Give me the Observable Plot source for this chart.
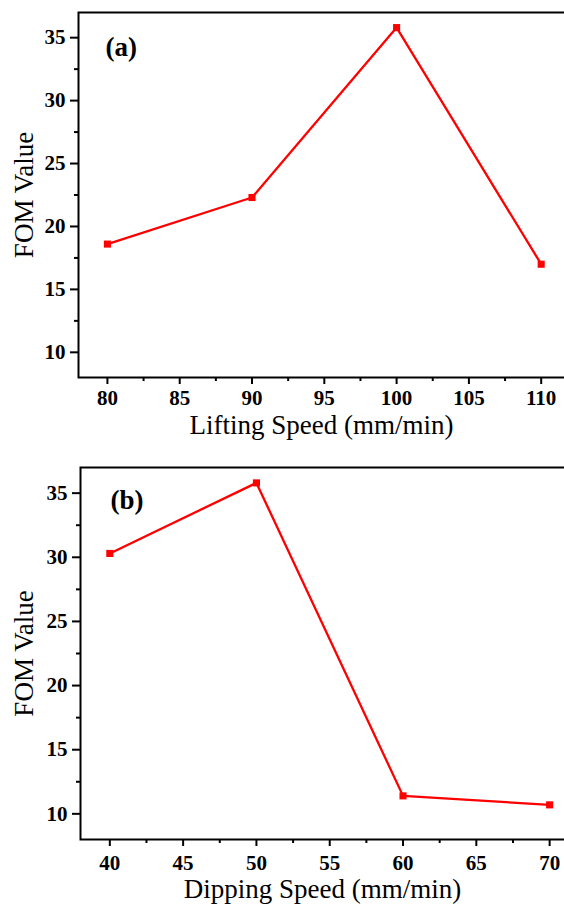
<!DOCTYPE html>
<html>
<head>
<meta charset="utf-8">
<script src="https://cdn.jsdelivr.net/npm/d3@7"></script>
<script src="https://cdn.jsdelivr.net/npm/@observablehq/plot@0.6"></script>
<style>
  html, body { margin: 0; padding: 0; background: white; overflow: hidden; }
  #chart { width: 564px; height: 908px; overflow: hidden; }
  #chart svg { display: block; max-width: none !important; }
</style>
</head>
<body>
<div id="chart"></div>
<script>
// Panel (a): Lifting speed
const liftingSpeed = [80, 90, 100, 110];
const fomLifting = [18.6, 22.3, 35.8, 17.0];
// Panel (b): Dipping speed
const dippingSpeed = [40, 50, 60, 70];
const fomDipping = [30.3, 35.8, 11.4, 10.7];

const xTicksA = [80, 85, 90, 95, 100, 105, 110];
const xMinorA = [82.5, 87.5, 92.5, 97.5, 102.5, 107.5];
const xTicksB = [40, 45, 50, 55, 60, 65, 70];
const xMinorB = [42.5, 47.5, 52.5, 57.5, 62.5, 67.5];
const yTicks = [10, 15, 20, 25, 30, 35];
const yMinor = [12.5, 17.5, 22.5, 27.5, 32.5];

const yLabel = "FOM Value";
const xLabelA = "Lifting Speed (mm/min)";
const xLabelB = "Dipping Speed (mm/min)";
const tagA = "(a)";
const tagB = "(b)";

const FONT = "'Liberation Serif', 'Times New Roman', serif";

function panel({xs, ys, xDomain, xTicks, xMinor, xLabel, tag, height, marginTop, marginBottom, marginLeft, tagDx, tagDy, xLabelDy, yLabelDx, xTickDy}) {
  const data = xs.map((x, i) => ({x, y: ys[i]}));
  const svg = Plot.plot({
    width: 566,
    height,
    marginTop,
    marginBottom,
    marginLeft,
    marginRight: 0,
    style: {fontFamily: FONT, background: "white", color: "black", overflow: "visible"},
    x: {domain: xDomain},
    y: {domain: [8, 37]},
    marks: [
      Plot.axisX({ticks: xTicks, tickSize: 7, tickFormat: () => "", strokeWidth: 2, label: null}),
      Plot.axisX({ticks: xMinor, tickSize: 4, tickFormat: () => "", strokeWidth: 2, label: null}),
      Plot.axisY({ticks: yTicks, tickSize: 8, tickFormat: () => "", strokeWidth: 2, label: null}),
      Plot.axisY({ticks: yMinor, tickSize: 4, tickFormat: () => "", strokeWidth: 2, label: null}),
      Plot.text(xTicks, {x: d => d, text: d => String(d), frameAnchor: "bottom", dy: xTickDy, lineAnchor: "middle", textAnchor: "middle", fontSize: 21, fontWeight: "bold", fontFamily: FONT}),
      Plot.text(yTicks, {y: d => d, text: d => String(d), frameAnchor: "left", dx: -13, textAnchor: "end", lineAnchor: "middle", fontSize: 21, fontWeight: "bold", fontFamily: FONT}),
      Plot.frame({stroke: "black", strokeWidth: 2}),
      Plot.line(data, {x: "x", y: "y", stroke: "#ff0000", strokeWidth: 2.3}),
      Plot.dot(data, {x: "x", y: "y", symbol: "square", r: 4, fill: "#ff0000", stroke: "none"}),
      Plot.text([tag], {text: d => d, frameAnchor: "top-left", dx: tagDx, dy: tagDy, textAnchor: "start", lineAnchor: "middle", fontSize: 27, fontWeight: "bold"}),
      Plot.text([xLabel], {text: d => d, frameAnchor: "bottom", dx: -1, dy: xLabelDy, lineAnchor: "top", fontSize: 27}),
      Plot.text([yLabel], {text: d => d, frameAnchor: "left", dx: yLabelDx, rotate: -90, textAnchor: "middle", lineAnchor: "middle", fontSize: 27})
    ]
  });
  return svg;
}

const chart = document.getElementById("chart");
chart.appendChild(panel({
  xs: liftingSpeed, ys: fomLifting, xDomain: [78, 111.75], xTicks: xTicksA, xMinor: xMinorA,
  xLabel: xLabelA, tag: tagA, height: 448, marginTop: 12, marginBottom: 71, marginLeft: 78,
  tagDx: 27, tagDy: 35, xLabelDy: 37, yLabelDx: -54, xTickDy: 21
}));
chart.appendChild(panel({
  xs: dippingSpeed, ys: fomDipping, xDomain: [38, 71.15], xTicks: xTicksB, xMinor: xMinorB,
  xLabel: xLabelB, tag: tagB, height: 460, marginTop: 19, marginBottom: 69, marginLeft: 80,
  tagDx: 30, tagDy: 33, xLabelDy: 39, yLabelDx: -56, xTickDy: 24
}));
</script>
</body>
</html>
